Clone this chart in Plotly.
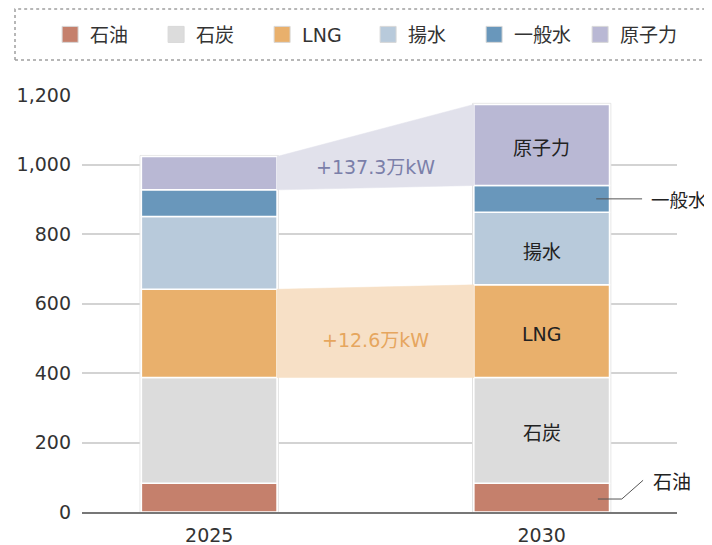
import plotly.graph_objects as go

# ---- data ----
years = ["2025", "2030"]
sources = ["石油", "石炭", "LNG", "揚水", "一般水", "原子力"]
oil = [83, 83]
coal = [304, 304]
lng = [254, 266.6]
pumped = [209, 209]
hydro = [77, 77]
nuclear = [96, 233.3]
series = [oil, coal, lng, pumped, hydro, nuclear]
colors = ["#c5806c", "#dcdcdc", "#e9b06c", "#b8cadb", "#6997bb", "#b9b8d4"]
band_sources = ["LNG", "原子力"]
band_labels = ["+12.6万kW", "+137.3万kW"]
band_fill = ["#f7e0c6", "#e1e1eb"]
band_text = ["#e6a65e", "#7b7fa9"]
inner_labels = ["原子力", "揚水", "LNG", "石炭"]
y_ticks = [0, 200, 400, 600, 800, 1000, 1200]

FONT = "DejaVu Sans, Noto Sans CJK JP"
W = 0.408
xpos = list(range(len(years)))

fig = go.Figure()

# cumulative bases
bases = []
cum = [0] * len(years)
for s in series:
    bases.append(cum[:])
    cum = [c + v for c, v in zip(cum, s)]

for name, vals, col, base in zip(sources, series, colors, bases):
    fig.add_trace(go.Bar(
        x=xpos, y=vals, base=base, width=W, name=name,
        marker=dict(color=col, line=dict(color="white", width=1.5)),
        showlegend=False, hoverinfo="skip",
    ))

# faint outline around each stacked bar
for i, tot in zip(xpos, cum):
    fig.add_shape(type="rect", xref="x", yref="y", layer="between",
                  x0=i - W / 2 - 0.004, x1=i + W / 2 + 0.004, y0=0, y1=tot + 3,
                  line=dict(color="#e2e2e2", width=1), fillcolor="white")

# bands connecting segments
for src, lab, fc, tc in zip(band_sources, band_labels, band_fill, band_text):
    i = sources.index(src)
    b0, b1 = bases[i][0], bases[i][1]
    t0, t1 = b0 + series[i][0], b1 + series[i][1]
    xl, xr = xpos[0] + W / 2, xpos[1] - W / 2
    fig.add_trace(go.Scatter(
        x=[xl, xl, xr, xr, xl], y=[b0, t0, t1, b1, b0],
        fill="toself", fillcolor=fc, mode="lines",
        line=dict(color=fc, width=0.5), showlegend=False, hoverinfo="skip",
    ))
    fig.add_annotation(
        x=(xpos[0] + xpos[1]) / 2, y=(b0 + t0 + b1 + t1) / 4, yshift=-8,
        text=lab, showarrow=False, font=dict(family=FONT, size=19, color=tc),
    )

# legend entries
for name, col in zip(sources, colors):
    fig.add_trace(go.Scatter(
        x=[None], y=[None], mode="markers", name=name,
        marker=dict(symbol="square", size=20, color=col,
                    line=dict(color="#d8d8d8", width=1)),
        showlegend=True,
    ))

# labels inside 2030 bar
for lab in inner_labels:
    i = sources.index(lab)
    fig.add_annotation(
        x=xpos[1], y=bases[i][1] + series[i][1] / 2, yshift=-3,
        text=lab, showarrow=False, font=dict(family=FONT, size=19, color="#222"),
    )

# side labels with leader lines
hi = sources.index("一般水")
hy = bases[hi][1] + series[hi][1] / 2
fig.add_shape(type="line", xref="x", yref="y",
              x0=xpos[1] + W / 2 - 0.04, x1=xpos[1] + W / 2 + 0.098, y0=hy, y1=hy,
              line=dict(color="#555", width=1))
fig.add_annotation(x=xpos[1] + W / 2 + 0.12, y=hy, yshift=-2, xanchor="left", text="一般水",
                   showarrow=False, font=dict(family=FONT, size=18.5, color="#222"))

oi = sources.index("石油")
oy = bases[oi][1] + series[oi][1] / 2
fig.add_shape(type="path", xref="x", yref="y",
              path=f"M {xpos[1] + W / 2 - 0.035},{oy * 0.9} L {xpos[1] + W / 2 + 0.037},{oy * 0.9} "
                   f"L {xpos[1] + W / 2 + 0.101},{oy * 2.2}",
              line=dict(color="#555", width=1))
fig.add_annotation(x=xpos[1] + W / 2 + 0.124, y=oy * 2.1, xanchor="left", text="石油",
                   showarrow=False, font=dict(family=FONT, size=19, color="#222"))

# dotted legend frame
fig.add_shape(type="rect", xref="paper", yref="paper",
              x0=-0.1126, x1=1.07, y0=1.084, y1=1.206,
              line=dict(color="#a0a0a0", width=1.5, dash="dot"))

fig.update_layout(
    width=704, height=537,
    margin=dict(l=74, r=35, t=87, b=33, autoexpand=False),
    plot_bgcolor="white", paper_bgcolor="white",
    barmode="overlay",
    font=dict(family=FONT, size=19, color="#333"),
    legend=dict(orientation="h", x=-0.0536, xanchor="left", y=1.145, yanchor="middle",
                font=dict(family=FONT, size=19, color="#333"),
                entrywidth=61, entrywidthmode="pixels",
                bgcolor="rgba(0,0,0,0)", itemclick=False, itemdoubleclick=False),
    xaxis=dict(range=[-0.3826, 1.407], tickvals=xpos, ticktext=years,
               showgrid=False, zeroline=False, showline=True, automargin=False,
               linecolor="#777", linewidth=1.5, ticks="", ticklabelstandoff=5,
               tickfont=dict(family=FONT, size=19, color="#333")),
    yaxis=dict(range=[0, 1200], tickvals=y_ticks, tickformat=",", automargin=False,
               showgrid=True, gridcolor="#d3d3d3", gridwidth=1.5,
               zeroline=False, showline=False, ticks="", ticklabelstandoff=10,
               tickfont=dict(family=FONT, size=19, color="#333")),
)

fig.write_html("out.html")
